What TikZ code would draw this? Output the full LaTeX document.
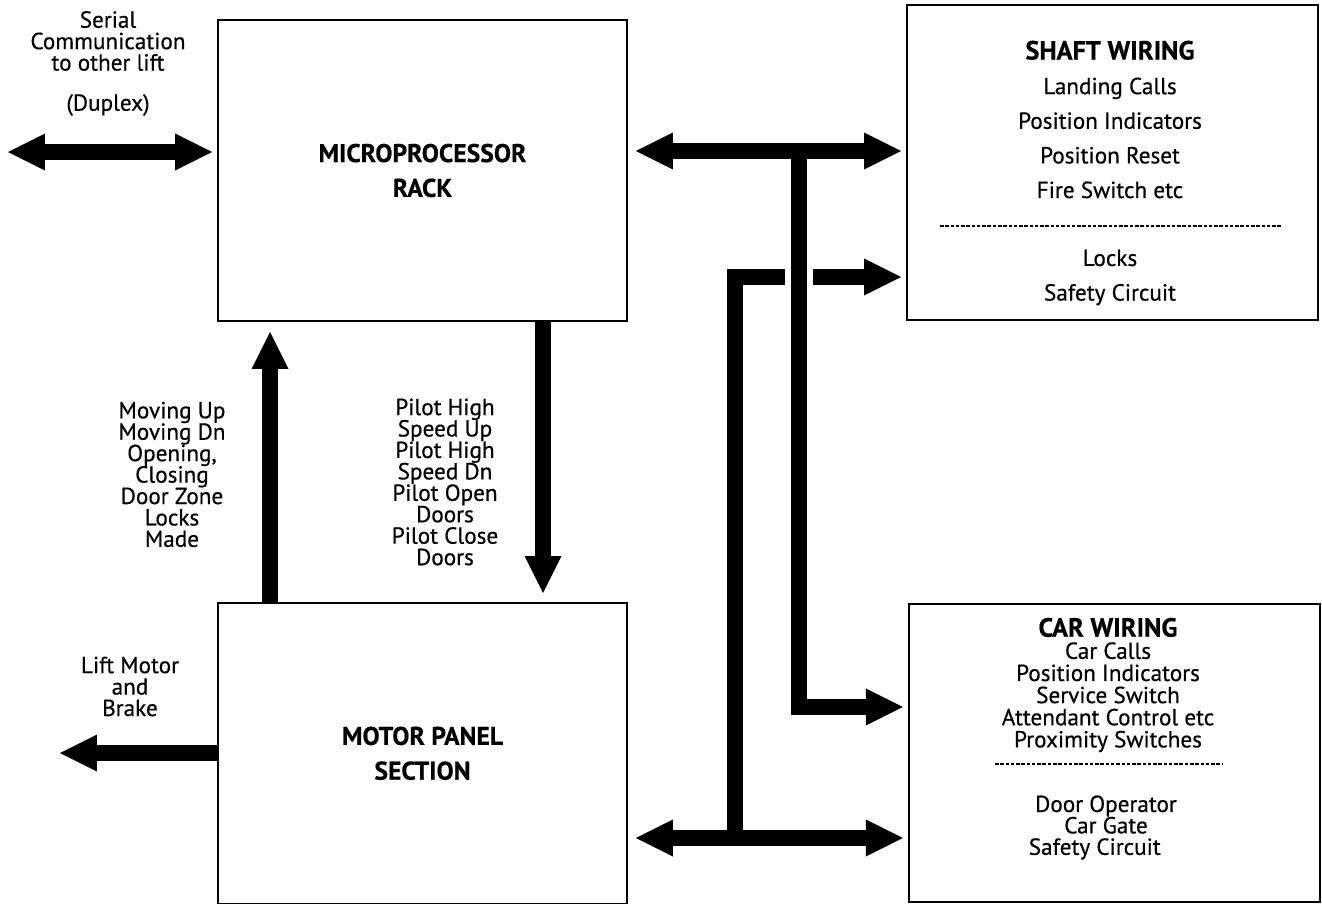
\documentclass[tikz,border=0pt]{standalone}
\usepackage{fontspec}
\setmainfont{PT Sans}[FakeBold=0.5]
\usetikzlibrary{arrows.meta,positioning}

\begin{document}
\begin{tikzpicture}[x=0.02cm,y=-0.02cm,font=\fontsize{13.2}{12.2}\selectfont,
box/.style={draw,line width=1.1pt,minimum width=8.18cm,minimum height=6.02cm,inner sep=0pt,align=center},
hd/.style={font=\fontsize{14.6}{19.8}\selectfont\bfseries},
txt/.style={align=center},
wire/.style={line width=0.32cm},
bus/.style={wire,-{Triangle[length=0.74cm,width=0.74cm,line width=0pt]}},
bus2/.style={wire,{Triangle[length=0.74cm,width=0.74cm,line width=0pt]}-{Triangle[length=0.74cm,width=0.74cm,line width=0pt]}},
sep/.style={line width=0.6pt,dash pattern=on 2pt off 1pt}]
\useasboundingbox (0,0) rectangle (1322,903);
% boxes
\node[box,hd] (micro) at (422.5,170.5) {MICROPROCESSOR\\RACK};
\node[box,hd,below=5.6cm of micro] (motor) {MOTOR PANEL\\SECTION};
\node[box,minimum width=8.22cm,minimum height=6.3cm] (shaft) at (1112.5,162.5) {};
\node[box,minimum width=8.22cm,minimum height=5.96cm,right=5.6cm of motor] (car) {};
% box texts
\node[txt,font=\fontsize{13.2}{19.7}\selectfont] (shafttop) at (1110,119.5) {{\fontsize{15}{19.7}\selectfont\bfseries SHAFT WIRING}\\Landing Calls\\Position Indicators\\Position Reset\\Fire Switch etc};
\node[txt,font=\fontsize{13.2}{19.7}\selectfont] (shaftbot) at (1110,277.5) {Locks\\Safety Circuit};
\draw[sep] (940,226) -- (1282,226);
\node[txt,font=\fontsize{13.2}{12.6}\selectfont] (cartop) at (1108,685) {{\fontsize{15}{14}\selectfont\bfseries CAR WIRING}\\Car Calls\\Position Indicators\\Service Switch\\Attendant Control etc\\Proximity Switches};
\draw[sep] (995,764) -- (1222,764);
\node[txt] (carbot) at (1106,827.5) {Door Operator\\Car Gate\\Safety Circuit\hspace*{0.45cm}};
% side labels
\node[txt] (serial) at (108,41) {Serial\\Communication\\to other lift};
\node (duplexlbl) at (108,105) {(Duplex)};
\node[txt] (moving) at (172,474.5) {Moving Up\\Moving Dn\\Opening,\\Closing\\Door Zone\\Locks\\Made};
\node[txt] (pilot) at (445,482) {Pilot High\\Speed Up\\Pilot High\\Speed Dn\\Pilot Open\\Doors\\Pilot Close\\Doors};
\node[txt] (liftlbl) at (130,686.5) {Lift Motor\\and\\Brake};
% bus points
\coordinate (duplex) at (8,152);
\coordinate (lift) at (60,753);
\coordinate (upx) at (270,332);
\coordinate (dnx) at (543,593);
\coordinate (tj) at (799,151);
\coordinate (cj) at (799,707);
\coordinate (bj) at (735,838);
\coordinate (dj) at (735,277);
\coordinate (gapl) at (785,277);
\coordinate (gapr) at (813,277);
% arrows
\draw[bus2] (duplex) -- ([xshift=-0.1cm]micro.west |- duplex);
\draw[bus] (motor.west |- lift) -- (lift);
\draw[bus] (motor.north -| upx) -- (upx);
\draw[bus] (micro.south -| dnx) -- (dnx);
\draw[bus2] ([xshift=0.16cm]micro.east |- tj) -- ([xshift=-0.1cm]shaft.west |- tj);
\draw[bus] (tj) -- (cj) -- ([xshift=-0.1cm]car.west |- cj);
\draw[bus2] ([xshift=0.16cm]motor.east |- bj) -- ([xshift=-0.1cm]car.west |- bj);
\draw[wire] (bj) -- (dj) -- (gapl);
\draw[bus] (gapr) -- ([xshift=-0.1cm]shaft.west |- gapr);
\end{tikzpicture}
\end{document}
